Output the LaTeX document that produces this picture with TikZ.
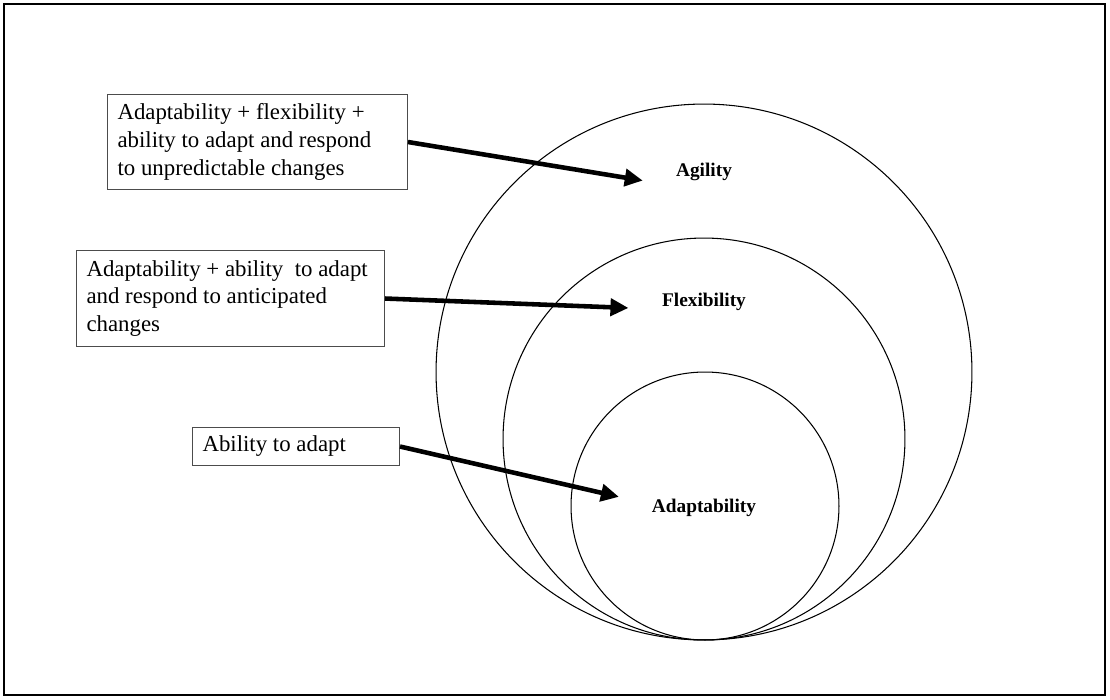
\documentclass[tikz,border=0pt]{standalone}
\usepackage{fontspec}
\setmainfont{Liberation Serif}
\usetikzlibrary{arrows.meta, positioning}
\tikzset{
  ring/.style={circle, draw=black, line width=0.6pt, inner sep=0pt},
  note/.style={rectangle, draw=black!70, line width=0.6pt, anchor=north west,
    align=flush left, inner xsep=0.2cm, inner ysep=0pt,
    font=\fontsize{13}{15.8}\selectfont},
  lbl/.style={font=\fontsize{11}{12}\selectfont\bfseries},
  arr/.style={-{Triangle[length=0.36cm,width=0.34cm]}, line width=2.6pt,
    shorten >=0.55cm},
}
\begin{document}
\begin{tikzpicture}[x=0.02cm, y=-0.02cm]
  \useasboundingbox (0,0) rectangle (1110,700);
  \draw[line width=1.3pt] (4,4) rectangle (1105,695);

  % nested circles, all touching at the bottom
  \node[ring, minimum size=10.72cm] (agc) at (704,372) {};
  \node[ring, minimum size=8.04cm]  (flc) at (704,439) {};
  \node[ring, minimum size=5.36cm]  (adc) at (705,506) {};

  \node[lbl] (agil) at (704,172) {Agility};
  \node[lbl] (flex) at (704,302) {Flexibility};
  \node[lbl] (adap) at (704,508) {Adaptability};

  \node[note, text width=5.6cm, minimum height=1.9cm] (b1) at (107,94)
       {Adaptability + flexibility +\\ability to adapt and respond\\to unpredictable changes};
  \node[note, text width=5.76cm, minimum height=1.92cm] (b2) at (76,250)
       {Adaptability + ability\ \ to adapt\\and respond to anticipated\\changes};
  \node[note, text width=3.74cm, minimum height=0.76cm] (b3) at (192,427)
       {Ability to adapt};

  \draw[arr] (b1.east) -- ([yshift=-0.26cm]agil.west);
  \draw[arr] (b2.east) -- ([yshift=-0.14cm]flex.west);
  \draw[arr] (b3.east) -- ([yshift=0.1cm]adap.west);
\end{tikzpicture}
\end{document}
